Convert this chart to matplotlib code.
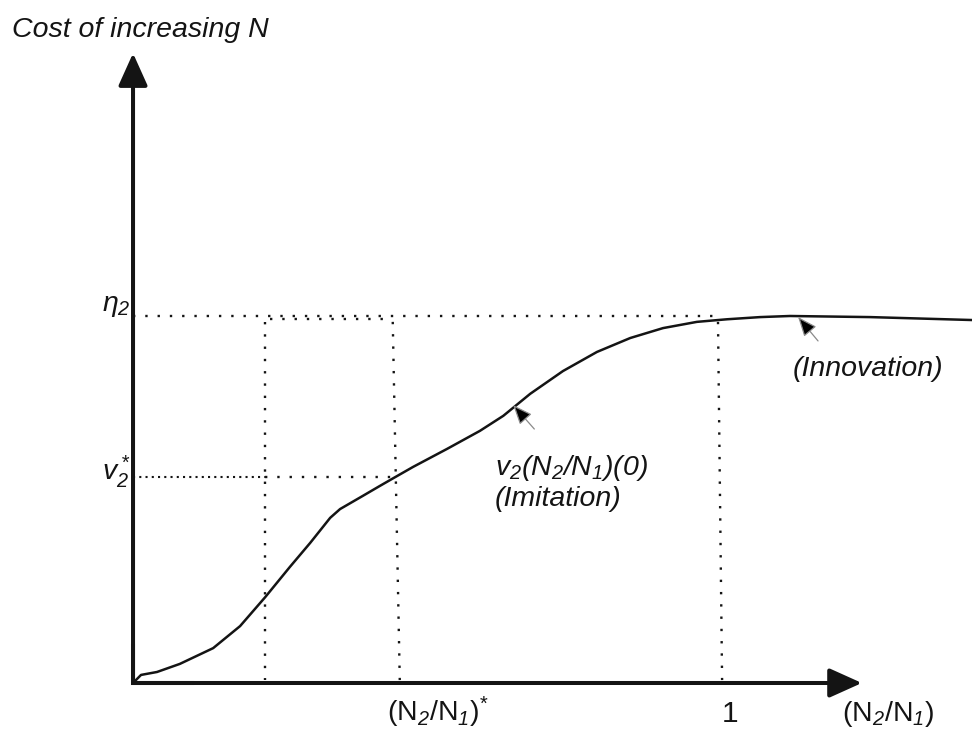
# cost of increasing N: imitation vs innovation schematic

import numpy as np
import matplotlib.pyplot as plt

plt.rcParams['font.family'] = ['Liberation Sans', 'DejaVu Sans']
plt.rcParams['mathtext.fontset'] = 'custom'
# italic everywhere in math (digits/brackets fall back to rm), upright via \mathsf
plt.rcParams['mathtext.rm'] = 'Liberation Sans:italic'
plt.rcParams['mathtext.it'] = 'Liberation Sans:italic'
plt.rcParams['mathtext.sf'] = 'Liberation Sans'
plt.rcParams['mathtext.default'] = 'it'

# curve v2(N2/N1), x = N2/N1, y = cost (eta2 = 1)
curve_x = [0.0, 0.0137, 0.041, 0.080, 0.137, 0.183, 0.226, 0.268, 0.303, 0.337,
           0.354, 0.393, 0.422, 0.446, 0.479, 0.537, 0.593, 0.633, 0.679, 0.735,
           0.793, 0.850, 0.906, 0.964, 1.015, 1.072, 1.123, 1.260, 1.434]
curve_y = [0.0, 0.022, 0.030, 0.052, 0.095, 0.155, 0.234, 0.316, 0.382, 0.450,
           0.474, 0.510, 0.537, 0.559, 0.589, 0.638, 0.687, 0.728, 0.788, 0.850,
           0.902, 0.940, 0.967, 0.984, 0.991, 0.997, 1.0, 0.997, 0.989]

eta2 = 1.0
v2_star = 0.561
x_a = 0.226
x_star_top, x_star_bot = 0.444, 0.456
x_one_top, x_one_bot = 1.0, 1.007

ink = '#141414'
fs = 20.5

fig = plt.figure(figsize=(9.72, 7.31), dpi=100)
ax = fig.add_axes([0, 0, 1, 1])
ax.set_xlim(-0.2274, 1.4342)
ax.set_ylim(-0.1308, 1.861)
ax.axis('off')

sparse = dict(color=ink, lw=1.7, linestyle=(0, (1, 4.2)), dash_capstyle='butt')
dense = dict(color=ink, lw=1.5, linestyle=(0, (1, 2.0)), dash_capstyle='butt')

# horizontal guides
ax.plot([0, x_one_top], [eta2, eta2], **sparse)
ax.plot([x_a + 0.008, x_star_top - 0.013], [eta2 - 0.008, eta2 - 0.008], **sparse)
ax.plot([0, x_a], [v2_star, v2_star], **dense)
ax.plot([x_a, x_star_top + 0.006], [v2_star, v2_star], **sparse)

# vertical guides
ax.plot([x_a, x_a], [0.984, 0.008], **sparse)
ax.plot([x_star_top, x_star_bot], [0.984, 0.008], **sparse)
ax.plot([x_one_top, x_one_bot], [0.984, 0.008], **sparse)

# curve
ax.plot(curve_x, curve_y, color=ink, lw=1.8, solid_joinstyle='round')

# axes with arrow heads
ax.plot([0, 0, 0.1], [0.1, 0, 0], color=ink, lw=2.9, solid_joinstyle='miter')
head = '-|>,head_length=1.0,head_width=0.45'
ax.annotate('', xy=(0, 1.716), xytext=(0, 0),
            arrowprops=dict(arrowstyle=head, mutation_scale=20, color=ink,
                            lw=2.9, shrinkA=0, shrinkB=0))
ax.annotate('', xy=(1.246, 0), xytext=(0, 0),
            arrowprops=dict(arrowstyle=head, mutation_scale=20, color=ink,
                            lw=2.9, shrinkA=0, shrinkB=0))

# small pointer arrows
small = dict(arrowstyle='-|>,head_length=0.85,head_width=0.35', mutation_scale=14,
             fc='black', ec='#8a8a8a', lw=0.9, shrinkA=0, shrinkB=0)
ax.annotate('', xy=(0.650, 0.757), xytext=(0.686, 0.692), arrowprops=small)
ax.annotate('', xy=(1.137, 0.997), xytext=(1.171, 0.932), arrowprops=small)

# texts
ax.text(-0.2068, 1.760, 'Cost of increasing N', fontsize=fs, style='italic',
        ha='left', va='baseline', color=ink)
ax.text(-0.004, 1.027, r'$\eta_2$', fontsize=fs, ha='right', va='center', color=ink)
ax.text(-0.003, 0.575, r'$v^*_2$', fontsize=fs, ha='right', va='center', color=ink)
ax.text(0.619, 0.567, r'$v_2(N_2/N_1)(0)$', fontsize=fs, ha='left',
        va='baseline', color=ink)
ax.text(0.619, 0.482, '(Imitation)', fontsize=fs, style='italic', ha='left',
        va='baseline', color=ink)
ax.text(1.128, 0.837, '(Innovation)', fontsize=fs, style='italic', ha='left',
        va='baseline', color=ink)
ax.text(0.434, -0.104, r'$\mathsf{(N}_2\mathsf{/N}_1\mathsf{)}^{\mathsf{*}}$',
        fontsize=fs, ha='left', va='baseline', color=ink)
ax.text(1.0205, -0.106, '1', fontsize=fs + 1, ha='center', va='baseline', color=ink)
ax.text(1.212, -0.104, r'$\mathsf{(N}_2\mathsf{/N}_1\mathsf{)}$', fontsize=fs,
        ha='left', va='baseline', color=ink)

fig.savefig('out.png', dpi=100, facecolor='white')
